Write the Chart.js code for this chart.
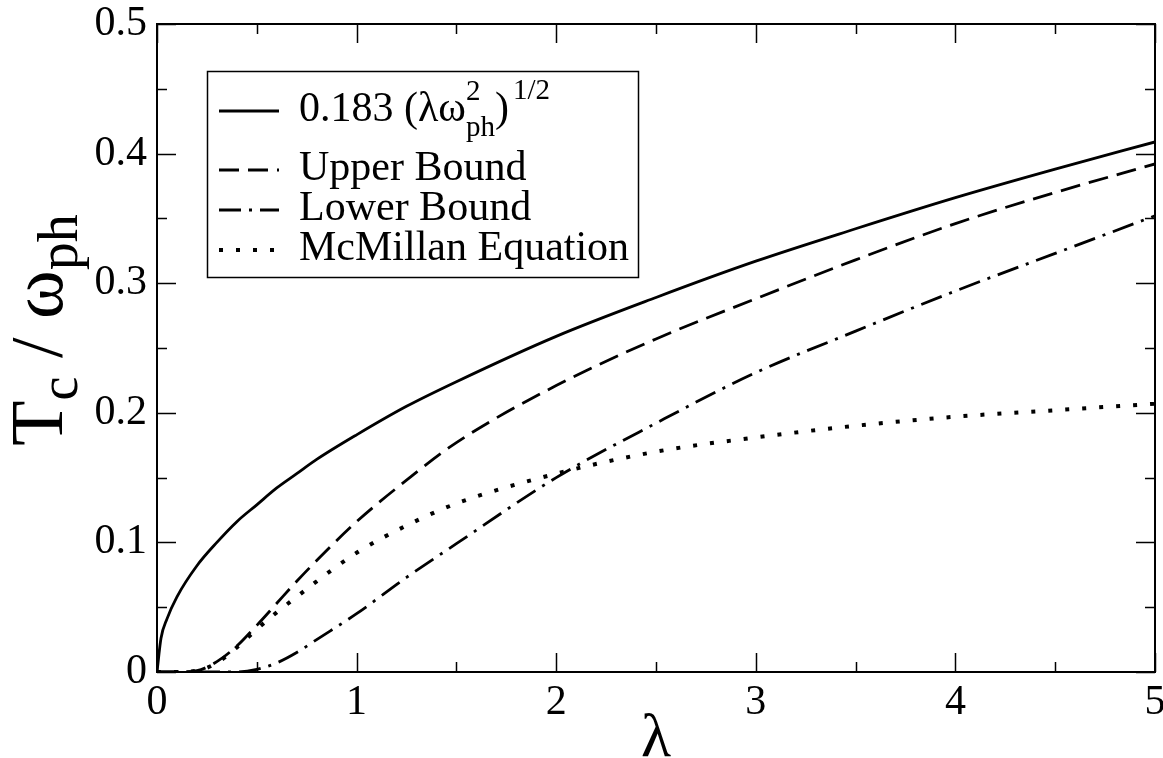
<!DOCTYPE html>
<html>
<head>
<meta charset="utf-8">
<script src="https://cdn.jsdelivr.net/npm/chart.js@4/dist/chart.umd.min.js"></script>
<style>
  html, body { margin: 0; padding: 0; background: #fff; }
  #wrap { width: 1163px; height: 758px; }
</style>
</head>
<body>
<div id="wrap"><canvas id="tcChart" width="1163" height="758"></canvas></div>
<script>
// lambda grid shared by every curve
const lambdas    = [0, 0.02, 0.05, 0.1, 0.2, 0.3, 0.4, 0.5, 0.6, 0.7, 0.8, 1, 1.25, 1.5, 2, 2.5, 3, 3.5, 4, 4.5, 5];
// Tc / w_ph
const sqrtLaw    = [0, 0.026, 0.041, 0.058, 0.082, 0.100, 0.116, 0.129, 0.142, 0.153, 0.164, 0.183, 0.205, 0.224, 0.259, 0.289, 0.317, 0.342, 0.366, 0.388, 0.409];
const upperBound = [0, 0, 0, 0, 0.001, 0.008, 0.020, 0.036, 0.053, 0.070, 0.086, 0.116, 0.148, 0.177, 0.221, 0.257, 0.288, 0.318, 0.346, 0.370, 0.392];
const lowerBound = [0, 0, 0, 0, 0, 0, 0, 0.002, 0.007, 0.015, 0.025, 0.045, 0.073, 0.099, 0.150, 0.192, 0.231, 0.263, 0.294, 0.323, 0.352];
const mcmillan   = [0, 0, 0, 0, 0.001, 0.007, 0.019, 0.033, 0.046, 0.058, 0.070, 0.092, 0.113, 0.130, 0.153, 0.170, 0.181, 0.190, 0.197, 0.202, 0.207];

const xMajor = [0, 1, 2, 3, 4, 5];
const xMinor = [0.5, 1.5, 2.5, 3.5, 4.5];
const yMajor = [0, 0.1, 0.2, 0.3, 0.4, 0.5];
const yMinor = [0.05, 0.15, 0.25, 0.35, 0.45];

const SERIF = "'Liberation Serif', 'Times New Roman', serif";

function pts(vals) {
    return lambdas.map((l, i) => ({ x: l, y: vals[i] }));
}

function lineSet(label, vals, dash, width) {
    return {
        label: label,
        data: pts(vals),
        borderColor: "#000",
        borderWidth: width,
        borderDash: dash,
        borderCapStyle: "butt",
        pointRadius: 0,
        fill: false,
        cubicInterpolationMode: "monotone"
    };
}

// frame, inward ticks, legend and axis titles
const decorPlugin = {
    id: "decor",
    afterDraw(chart) {
        const ctx = chart.ctx;
        const a = chart.chartArea;
        const xs = chart.scales.x, ys = chart.scales.y;
        ctx.save();
        ctx.strokeStyle = "#000";
        ctx.lineWidth = 2;
        ctx.strokeRect(a.left, a.top, a.right - a.left, a.bottom - a.top);

        ctx.lineWidth = 1.5;
        ctx.beginPath();
        const tick = (vals, len, horiz) => {
            vals.forEach(v => {
                if (horiz) {
                    let px = Math.round(xs.getPixelForValue(v)) + 0.5;
                    ctx.moveTo(px, a.bottom); ctx.lineTo(px, a.bottom - len);
                    ctx.moveTo(px, a.top); ctx.lineTo(px, a.top + len);
                } else {
                    let py = Math.round(ys.getPixelForValue(v)) + 0.5;
                    ctx.moveTo(a.left, py); ctx.lineTo(a.left + len, py);
                    ctx.moveTo(a.right, py); ctx.lineTo(a.right - len, py);
                }
            });
        };
        tick(xMajor, 19, true);
        tick(xMinor, 10, true);
        tick(yMajor, 19, false);
        tick(yMinor, 10, false);
        ctx.stroke();

        // legend
        ctx.fillStyle = "#fff";
        ctx.fillRect(207, 71, 431, 206);
        ctx.lineWidth = 1.5;
        ctx.strokeRect(207.5, 71.5, 431, 206);

        const rows = [111, 170, 210, 250];
        chart.data.datasets.forEach((ds, i) => {
            ctx.beginPath();
            ctx.lineWidth = ds.borderWidth;
            ctx.setLineDash(ds.borderDash);
            ctx.lineCap = "butt";
            ctx.moveTo(219, rows[i]);
            ctx.lineTo(279, rows[i]);
            ctx.stroke();
        });
        ctx.setLineDash([]);

        ctx.fillStyle = "#000";
        ctx.textBaseline = "alphabetic";
        ctx.textAlign = "left";
        const big = "42px " + SERIF, small = "29px " + SERIF;
        // first entry with super/subscripts
        let x = 299;
        ctx.font = big;
        ctx.fillText("0.183 (\u03bb\u03c9", x, 121);
        x += ctx.measureText("0.183 (\u03bb\u03c9").width;
        ctx.font = small;
        ctx.fillText("2", x, 100);
        ctx.fillText("ph", x, 136);
        x += ctx.measureText("ph").width;
        ctx.font = big;
        ctx.fillText(")", x, 121);
        x += ctx.measureText(")").width + 4;
        ctx.font = small;
        ctx.fillText("1/2", x, 99);

        ctx.font = big;
        for (let i = 1; i < chart.data.datasets.length; i++) {
            ctx.fillText(chart.data.datasets[i].label, 299, rows[i] + 10);
        }

        // x title
        ctx.font = "62px " + SERIF;
        ctx.textAlign = "center";
        ctx.fillText("\u03bb", (a.left + a.right) / 2, 756);

        // y title, rotated
        ctx.save();
        ctx.translate(62, 330);
        ctx.rotate(-Math.PI / 2);
        const parts = [
            ["T", "74px", 0], ["c", "54px", 15], [" / ", "74px", 0],
            ["\u03c9", "74px", 0], ["ph", "56px", 15]
        ];
        let total = 0;
        parts.forEach(p => { ctx.font = p[1] + " " + SERIF; total += ctx.measureText(p[0]).width; });
        let tx = -total / 2;
        ctx.textAlign = "left";
        parts.forEach(p => {
            ctx.font = p[1] + " " + SERIF;
            ctx.fillText(p[0], tx, p[2]);
            tx += ctx.measureText(p[0]).width;
        });
        ctx.restore();

        ctx.restore();
    }
};

new Chart(document.getElementById("tcChart").getContext("2d"), {
    type: "line",
    data: {
        datasets: [
            lineSet("0.183 (\u03bb\u03c9ph\u00b2)^1/2", sqrtLaw, [], 2.8),
            lineSet("Upper Bound", upperBound, [20, 9], 2.8),
            lineSet("Lower Bound", lowerBound, [22, 8, 3, 8], 2.8),
            lineSet("McMillan Equation", mcmillan, [4, 13], 4)
        ]
    },
    options: {
        responsive: false,
        animation: false,
        devicePixelRatio: 1,
        layout: { padding: { top: 24, right: 8, left: 0, bottom: 0 } },
        plugins: { legend: { display: false }, tooltip: { enabled: false } },
        scales: {
            x: {
                type: "linear",
                min: 0, max: 5,
                grid: { display: false, drawTicks: false },
                border: { display: false },
                ticks: {
                    stepSize: 1, padding: 10, color: "#000",
                    font: { family: SERIF, size: 42, lineHeight: 1 }
                },
                afterFit(scale) {
                    scale.height = 86;
                    scale.paddingLeft = 0;
                    scale.paddingRight = 0;
                }
            },
            y: {
                min: 0, max: 0.5,
                grid: { display: false, drawTicks: false },
                border: { display: false },
                ticks: {
                    stepSize: 0.1, padding: 10, color: "#000",
                    font: { family: SERIF, size: 42, lineHeight: 1 },
                    callback: v => String(Math.round(v * 10) / 10)
                },
                afterFit(scale) {
                    scale.width = 157;
                    scale.paddingTop = 0;
                    scale.paddingBottom = 0;
                }
            }
        }
    },
    plugins: [decorPlugin]
});
</script>
</body>
</html>
